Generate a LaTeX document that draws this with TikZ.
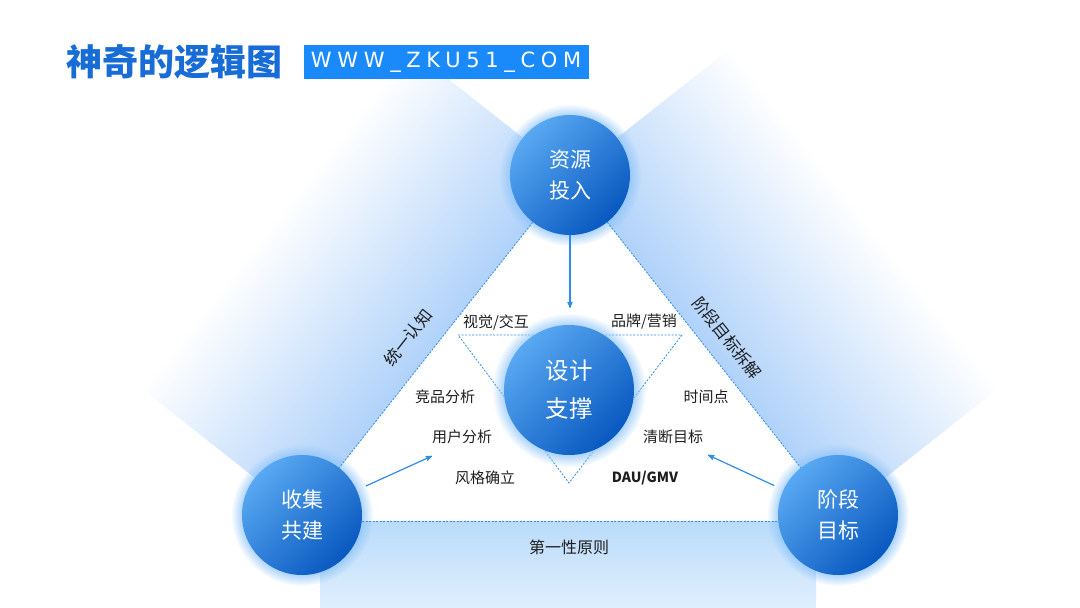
\documentclass[tikz,border=0pt]{standalone}
\usepackage{fontspec}
\setmainfont{Noto Sans CJK SC}
\newfontfamily\urlfont[LetterSpace=27]{DejaVu Sans}
\usetikzlibrary{arrows, fadings, positioning}

\definecolor{hublight}{RGB}{88,168,242}
\definecolor{hubdark}{RGB}{8,88,192}
\definecolor{glowblue}{RGB}{140,195,250}
\definecolor{beamblue}{RGB}{176,210,250}
\definecolor{beammid}{RGB}{212,232,252}
\definecolor{floortop}{RGB}{186,219,251}
\definecolor{floorbot}{RGB}{224,239,253}
\definecolor{linkblue}{RGB}{46,140,232}
\definecolor{titleblue}{RGB}{24,108,214}
\definecolor{urlblue}{RGB}{26,138,250}
\definecolor{labelgray}{RGB}{30,30,30}

\begin{document}
\begin{tikzpicture}[x=1pt,y=-1pt,>=stealth',
    hub/.style={circle,minimum size=120pt,inner sep=0pt,text=white,align=center,
        top color=hublight,bottom color=hubdark,shading angle=45,
        font=\fontsize{21}{31}\selectfont},
    glow/.style={glowblue,opacity=0.9,path fading=circle with fuzzy edge 20 percent},
    dashline/.style={linkblue,line width=0.8pt,dash pattern=on 2pt off 1.5pt},
    flow/.style={->,linkblue,line width=1.2pt},
    tag/.style={text=labelgray,inner sep=1pt,font=\fontsize{15}{15}\selectfont}]

  \useasboundingbox (0,0) rectangle (1080,608);
  \clip (0,0) rectangle (1080,608);

  \coordinate (cT) at (570,175);
  \coordinate (cD) at (569,390);
  \coordinate (cL) at (302,515);
  \coordinate (cR) at (838,515);

  % light beams behind the three sides
  \begin{scope}[transform canvas={shift={(cL)},rotate=51.75}]
    \shade[x=1pt,y=1pt,bottom color=beamblue,middle color=beammid,top color=white] (0,0) rectangle (433,205);
  \end{scope}
  \begin{scope}[transform canvas={shift={(cR)},rotate=128.25}]
    \shade[x=1pt,y=1pt,top color=beamblue,middle color=beammid,bottom color=white] (0,0) rectangle (433,-205);
  \end{scope}
  \shade[top color=floortop,bottom color=floorbot] (320,521) rectangle (816,608);

  % inner triangle
  \draw[dashline] (458,335) -- (682,335) -- (569,483) -- cycle;

  \fill[glow] (cT) circle (71pt);
  \fill[glow] (cD) circle (77pt);
  \fill[glow] (cL) circle (71pt);
  \fill[glow] (cR) circle (71pt);

  \node[hub] (Resource) at (cT) {资源\\投入};
  \node[hub,minimum size=130pt,font=\fontsize{23.5}{38}\selectfont] (Design) at (cD) {设计\\支撑};
  \node[hub] (Collect) at (cL) {收集\\共建};
  \node[hub] (Stage) at (cR) {阶段\\目标};

  \draw[dashline] (Resource) -- (Collect);
  \draw[dashline] (Resource) -- (Stage);
  \draw[dashline] ([yshift=-6pt]Collect.east) -- ([yshift=-6pt]Stage.west);

  \coordinate (DesignTop) at (570,308);
  \coordinate (UserTip) at (432,456);
  \coordinate (GoalTip) at (708,455);
  \draw[flow] (Resource) -- (DesignTop);
  \draw[flow,shorten <=10pt] (Collect) -- (UserTip);
  \draw[flow,shorten <=10pt] (Stage) -- (GoalTip);

  \node[tag] (Visual) at (496,322) {视觉/交互};
  \node[tag] (Brand) at (644,322) {品牌/营销};
  \node[tag] (Rival) at (445,397) {竞品分析};
  \node[tag] (User) at (462,437) {用户分析};
  \node[tag] (Style) at (485,478) {风格确立};
  \node[tag] (Time) at (706,397) {时间点};
  \node[tag] (Goal) at (673,437) {清断目标};
  \node[tag,font=\fontsize{14}{14}\selectfont\bfseries] (Metric) at (645,478) {DAU/GMV};

  \node[tag,rotate=51.75,font=\fontsize{16.5}{16.5}\selectfont] (Unify) at (408,338) {统一认知};
  \node[tag,rotate=-51.75,font=\fontsize{16.5}{16.5}\selectfont] (Split) at (727,338) {阶段目标拆解};
  \node[tag,font=\fontsize{16}{16}\selectfont] (First) at (569,547) {第一性原则};

  \node[anchor=west,inner sep=0pt,text=titleblue,font=\fontsize{36}{36}\selectfont\bfseries] (Title) at (66,62) {神奇的逻辑图};
  \node[fill=urlblue,text=white,minimum width=285pt,minimum height=34pt,inner sep=0pt,
        font=\urlfont\fontsize{21}{21}\selectfont,right=21pt of Title] (Site) {WWW\_ZKU51\_COM};

\end{tikzpicture}
\end{document}
